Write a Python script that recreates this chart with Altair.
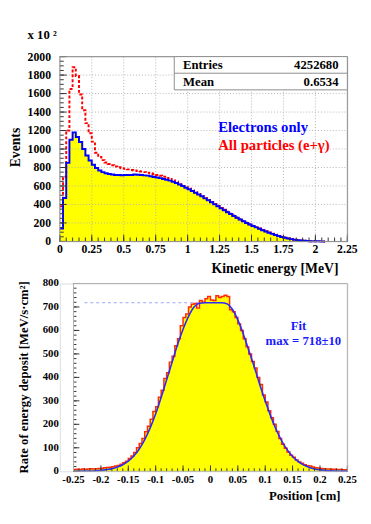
import altair as alt
import pandas as pd

FONT = "Liberation Serif"

# ---------------- top panel data (bins of 0.025 MeV, counts in units of 10^2) ----------------
E_BIN = 0.025
electrons = [140, 470, 850, 1100, 1180, 1130, 1075, 1000, 930, 875,
             830, 795, 768, 750, 738, 730, 724, 720, 718, 716,
             718, 720, 718, 724, 722, 718, 715, 712, 705, 698,
             692, 685, 676, 668, 658, 645, 632, 616, 600, 582,
             564, 546, 527, 508, 488, 466, 445, 423, 401, 380,
             358, 337, 316, 296, 276, 256, 237, 218, 200, 184,
             168, 152, 137, 122, 108, 95, 82, 70, 59, 49,
             40, 32, 25, 19, 14, 10, 7, 5, 3, 2,
             1, 0.5, 0]
all_particles = [380, 700, 1200, 1650, 1885, 1790, 1590, 1420, 1280, 1170,
                 1080, 960, 915, 880, 855, 838, 825, 812, 802, 793,
                 785, 780, 774, 768, 762, 756, 750, 744, 737, 729,
                 720, 710, 699, 688, 676, 662, 647, 630, 612, 592,
                 572, 552, 532, 513, 493, 471, 450, 428, 406, 385,
                 363, 342, 321, 300, 280, 260, 241, 222, 204, 187,
                 171, 155, 140, 125, 111, 97, 84, 72, 61, 51,
                 42, 33, 26, 20, 15, 11, 8, 5, 3, 2,
                 1, 0.5, 0]

top_x_major = [0, 0.25, 0.5, 0.75, 1, 1.25, 1.5, 1.75, 2, 2.25]
top_x_labels = ["0", "0.25", "0.5", "0.75", "1", "1.25", "1.5", "1.75", "2", "2.25"]
top_y_major = [0, 200, 400, 600, 800, 1000, 1200, 1400, 1600, 1800, 2000]
top_y_labels = ["0", "200", "400", "600", "800", "1000", "1200", "1400", "1600", "1800", "2000"]
top_x_minor = [round(i * 0.05, 3) for i in range(46)]
top_y_minor = [i * 50 for i in range(41)]

stats_labels = ["Entries", "Mean"]
stats_values = ["4252680", "0.6534"]
legend_labels = ["Electrons only", "All particles (e+\u03b3)"]
legend_colors = ["#0000ff", "#ff0000"]

# ---------------- bottom panel data (bins of 0.005 cm) ----------------
POS_BIN = 0.005
deposit = [8, 9, 8, 10, 9, 10, 11, 10, 11, 12,
           13, 15, 16, 17, 19, 22, 25, 30, 36, 43,
           54, 65, 80, 100, 118, 140, 168, 192, 222, 255,
           275, 315, 345, 395, 420, 465, 490, 535, 565, 620,
           655, 670, 700, 712, 715, 695, 728, 720, 735, 745,
           730, 728, 748, 740, 745, 750, 745, 688, 680, 655,
           628, 600, 565, 530, 500, 468, 440, 400, 370, 325,
           295, 258, 228, 200, 170, 140, 115, 98, 82, 68,
           60, 48, 40, 34, 28, 24, 22, 18, 15, 14,
           12, 11, 10, 10, 9, 9, 8, 8, 7, 6]
fit_x = [-0.25, -0.24, -0.23, -0.22, -0.21, -0.2, -0.19, -0.18, -0.17, -0.16,
         -0.15, -0.14, -0.13, -0.12, -0.11, -0.1, -0.09, -0.08, -0.07, -0.06,
         -0.05, -0.04, -0.03, -0.02, -0.01, 0.0, 0.01, 0.02, 0.03, 0.04,
         0.05, 0.06, 0.07, 0.08, 0.09, 0.1, 0.11, 0.12, 0.13, 0.14,
         0.15, 0.16, 0.17, 0.18, 0.19, 0.2, 0.21, 0.22, 0.23, 0.24, 0.25]
fit_y = [0, 0.5, 1, 1.5, 2.5, 4, 7, 11, 18, 28,
         43, 65, 95, 135, 185, 245, 315, 390, 465, 540,
         605, 660, 700, 716, 718, 718, 718, 718, 714, 690,
         645, 585, 515, 445, 370, 300, 235, 178, 130, 92,
         63, 42, 27, 17, 10, 6, 3.5, 2, 1.2, 0.7, 0.4]
fit_max = 718
fit_line_x = [-0.23, -0.02]
fit_labels = ["Fit", "max = 718\u00b110"]

bot_x_major = [-0.25, -0.2, -0.15, -0.1, -0.05, 0, 0.05, 0.1, 0.15, 0.2, 0.25]
bot_x_labels = ["-0.25", "-0.2", "-0.15", "-0.1", "-0.05", "0", "0.05", "0.1", "0.15", "0.2", "0.25"]
bot_y_major = [0, 100, 200, 300, 400, 500, 600, 700, 800]
bot_y_labels = ["0", "100", "200", "300", "400", "500", "600", "700", "800"]
bot_x_minor = [round(-0.25 + i * 0.01, 3) for i in range(51)]
bot_y_minor = [i * 20 for i in range(41)]

# ---------------- styling ----------------
W1, H1 = 294, 189
W2, H2 = 294, 192
BX0 = 14  # left edge of the bottom frame inside its view
one = pd.DataFrame({"a": [0]})
txt = dict(font=FONT, fontWeight="bold")


def X(field, scale):
    return alt.X(field + ":Q", scale=scale, axis=None)


def Y(field, scale):
    return alt.Y(field + ":Q", scale=scale, axis=None)


def xticks(vals, scale, h, ln):
    return alt.Chart(pd.DataFrame({"x": vals})).mark_rule(color="#333", strokeWidth=1).encode(
        x=X("x", scale), y=alt.value(h), y2=alt.value(h - ln))


def yticks(vals, scale, x0, ln):
    return alt.Chart(pd.DataFrame({"y": vals})).mark_rule(color="#333", strokeWidth=1).encode(
        y=Y("y", scale), x=alt.value(x0), x2=alt.value(x0 + ln))


def xgrid(vals, scale, h):
    return alt.Chart(pd.DataFrame({"x": vals})).mark_rule(
        color="#b4b4b4", strokeWidth=1, strokeDash=[1, 2]).encode(
        x=X("x", scale), y=alt.value(0), y2=alt.value(h))


def ygrid(vals, scale, x0, x1):
    return alt.Chart(pd.DataFrame({"y": vals})).mark_rule(
        color="#b4b4b4", strokeWidth=1, strokeDash=[1, 2]).encode(
        y=Y("y", scale), x=alt.value(x0), x2=alt.value(x1))


def xlabels(vals, labels, scale, ypos, size):
    return alt.Chart(pd.DataFrame({"x": vals, "lab": labels})).mark_text(
        align="center", baseline="middle", fontSize=size, color="black", **txt).encode(
        x=X("x", scale), y=alt.value(ypos), text="lab:N")


def ylabels(vals, labels, scale, xpos, size):
    return alt.Chart(pd.DataFrame({"y": vals, "lab": labels})).mark_text(
        align="right", baseline="middle", fontSize=size, color="black", **txt).encode(
        y=Y("y", scale), x=alt.value(xpos), text="lab:N")


def label(text, x, y, size, color="black", align="left", angle=0, baseline="middle"):
    kw = dict(align=align, baseline=baseline, fontSize=size, color=color, **txt)
    if angle:
        kw["angle"] = angle
    return alt.Chart(one).mark_text(**kw).encode(
        x=alt.value(x), y=alt.value(y), text=alt.value(text))


# ---------------- top panel ----------------
n_e = len(electrons)
top_df = pd.DataFrame({
    "x": [round(i * E_BIN, 4) for i in range(n_e + 1)],
    "e": electrons + [electrons[-1]],
    "r": all_particles + [all_particles[-1]],
})
xs_top = alt.Scale(domain=[0, 2.25], nice=False, zero=False)
ys_top = alt.Scale(domain=[0, 2000], nice=False)

t_base = alt.Chart(top_df)
t_area = t_base.mark_area(interpolate="step-after", color="#ffff00").encode(
    x=X("x", xs_top), y=Y("e", ys_top))
t_red = t_base.mark_line(interpolate="step-after", color="#ff0000", strokeWidth=2,
                         strokeDash=[3, 2]).encode(x=X("x", xs_top), y=Y("r", ys_top))
t_blue = t_base.mark_line(interpolate="step-after", color="#0000ff", strokeWidth=2).encode(
    x=X("x", xs_top), y=Y("e", ys_top))

t_grid = [xgrid(top_x_major[1:-1], xs_top, H1), ygrid(top_y_major[1:-1], ys_top, 0, W1)]
t_ticks = [xticks(top_x_major, xs_top, H1, 7), xticks(top_x_minor, xs_top, H1, 4),
           yticks(top_y_major, ys_top, 0, 7), yticks(top_y_minor, ys_top, 0, 4)]
t_frame = alt.Chart(one).mark_rect(fillOpacity=0, stroke="#8c8c8c", strokeWidth=1).encode(
    x=alt.value(0), x2=alt.value(W1), y=alt.value(0), y2=alt.value(H1))
t_box = alt.Chart(one).mark_rect(fill="white", stroke="#8c8c8c", strokeWidth=1).encode(
    x=alt.value(117), x2=alt.value(W1), y=alt.value(0), y2=alt.value(34))
t_div = alt.Chart(one).mark_rule(color="#8c8c8c").encode(
    x=alt.value(117), x2=alt.value(W1), y=alt.value(17))

t_texts = [xlabels(top_x_major, top_x_labels, xs_top, H1 + 8, 12),
           ylabels(top_y_major, top_y_labels, ys_top, -9, 12),
           label("Kinetic energy [MeV]", 285, H1 + 32, 14, align="right", baseline="alphabetic"),
           label("Events", -45, 93, 14, align="center", angle=270),
           label("x 10 \u00b2", -33, -22, 13)]
for i, (l, v) in enumerate(zip(stats_labels, stats_values)):
    t_texts.append(label(l, 126, 9 + 17 * i, 13))
    t_texts.append(label(v, 285, 9 + 17 * i, 13, align="right"))
for i, (l, c) in enumerate(zip(legend_labels, legend_colors)):
    t_texts.append(label(l, 162, 72 + 19 * i, 15, color=c))

top = alt.layer(t_area, *t_grid, t_red, t_blue, *t_ticks, t_frame, t_box, t_div,
                *t_texts).properties(width=W1, height=H1)

# ---------------- bottom panel ----------------
n_b = len(deposit)
bot_df = pd.DataFrame({
    "x": [round(-0.25 + i * POS_BIN, 4) for i in range(n_b + 1)],
    "v": deposit + [deposit[-1]],
})
fit_df = pd.DataFrame({"x": fit_x, "v": fit_y})
max_df = pd.DataFrame({"x": [fit_line_x[0]], "x2": [fit_line_x[1]], "v": [fit_max]})

xs_bot = alt.Scale(domain=[-0.25, 0.25], range=[BX0, W2], nice=False, zero=False)
ys_bot = alt.Scale(domain=[0, 800], nice=False)

b_area = alt.Chart(bot_df).mark_area(interpolate="step-after", color="#ffff00").encode(
    x=X("x", xs_bot), y=Y("v", ys_bot))
b_red = alt.Chart(bot_df).mark_line(interpolate="step-after", color="#ff2a00",
                                    strokeWidth=1.5).encode(x=X("x", xs_bot), y=Y("v", ys_bot))
b_fit = alt.Chart(fit_df).mark_line(interpolate="monotone", color="#2a2aff",
                                    strokeWidth=1.6).encode(x=X("x", xs_bot), y=Y("v", ys_bot))
b_max = alt.Chart(max_df).mark_rule(color="#9aa4ff", strokeDash=[3, 3], strokeWidth=1).encode(
    x=X("x", xs_bot), x2="x2:Q", y=Y("v", ys_bot))

b_ticks = [xticks(bot_x_major, xs_bot, H2, 6), xticks(bot_x_minor, xs_bot, H2, 3),
           yticks(bot_y_major, ys_bot, BX0, 6), yticks(bot_y_minor, ys_bot, BX0, 3)]
b_frame = alt.Chart(one).mark_rect(fillOpacity=0, stroke="#b0b0b0", strokeWidth=1).encode(
    x=alt.value(BX0), x2=alt.value(W2), y=alt.value(0), y2=alt.value(H2))
b_texts = [
    xlabels(bot_x_major, bot_x_labels, xs_bot, H2 + 9, 11),
    ylabels(bot_y_major, bot_y_labels, ys_bot, -1, 11),
    label("Position [cm]", 287, H2 + 29, 13, align="right", baseline="alphabetic"),
    label("Rate of energy deposit [MeV/s\u00b7cm\u00b2]", -37, 96, 13, align="center", angle=270),
    label(fit_labels[0], 244, 44, 13, color="#1a1aff", align="center"),
    label(fit_labels[1], 249, 59, 13, color="#1a1aff", align="center"),
]

bottom = alt.layer(b_area, b_max, b_red, b_fit, *b_ticks, b_frame, *b_texts).properties(
    width=W2, height=H2)

chart = alt.vconcat(top, bottom, spacing=0).properties(
    padding={"left": 0, "top": 15, "right": 5, "bottom": 5}
).configure_view(stroke=None).configure(background="white")

chart.save("out.html", embed_options={"renderer": "svg", "actions": False})
